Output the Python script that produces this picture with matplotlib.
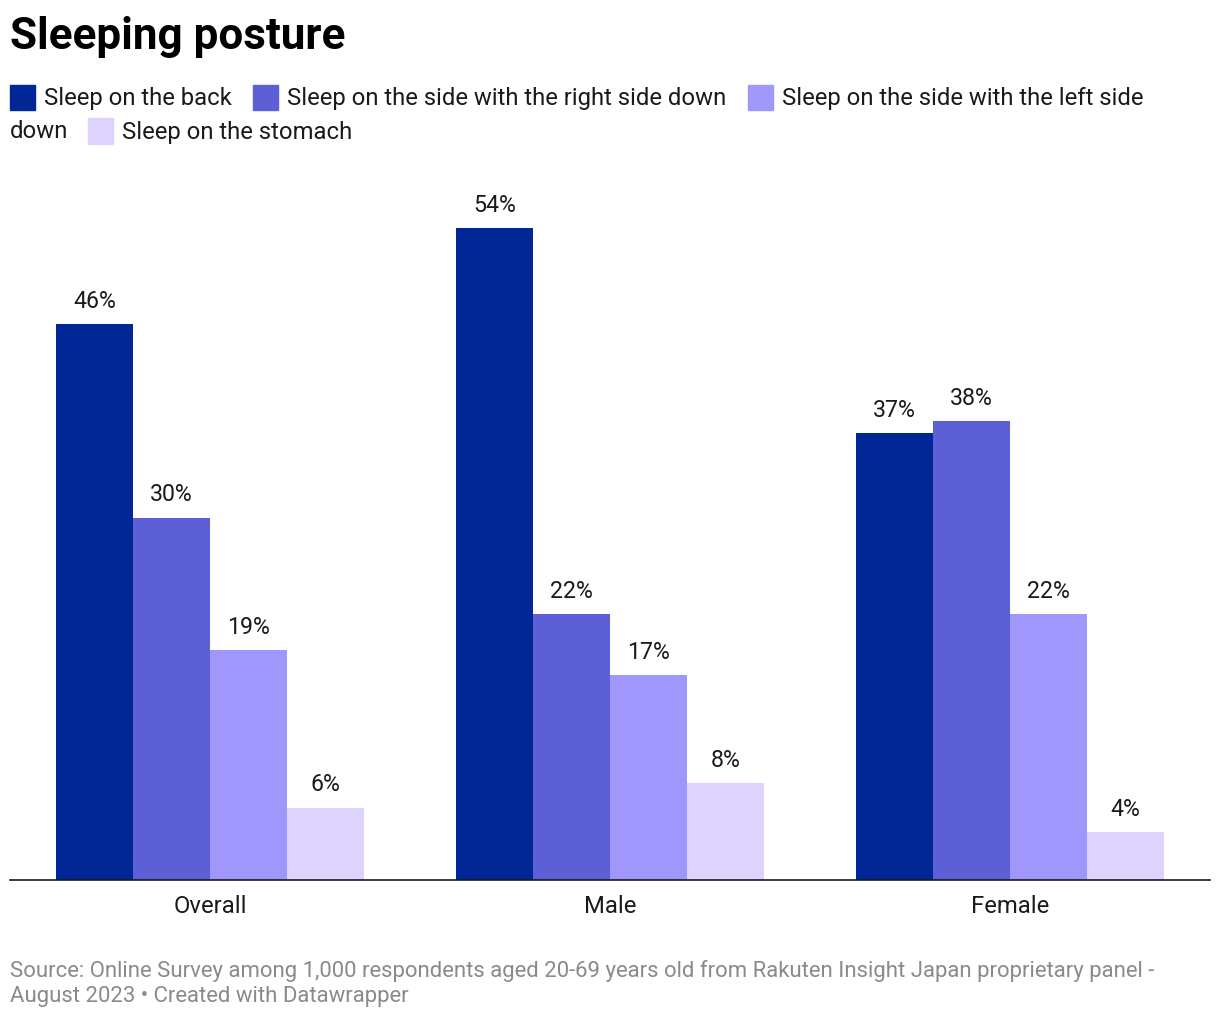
import numpy as np
from matplotlib import pyplot as plt
from matplotlib.patches import Rectangle

plt.rcParams['font.family'] = ['Roboto', 'DejaVu Sans']

groups = ["Overall", "Male", "Female"]
series = ["Sleep on the back", "Sleep on the side with the right side down",
          "Sleep on the side with the left side down", "Sleep on the stomach"]
back = [46, 54, 37]
right_side = [30, 22, 38]
left_side = [19, 17, 22]
stomach = [6, 8, 4]
colors = ["#002795", "#5c5fd6", "#a097fc", "#ddd3fc"]

fig = plt.figure(figsize=(12.2, 10.2), dpi=100)
W, H = 1220, 1020
ax = fig.add_axes([10 / W, 1 - 881 / H, 1200 / W, 711 / H])

x = np.arange(len(groups))
w = 0.1925
for i, vals in enumerate([back, right_side, left_side, stomach]):
    pos = x + (i - 1.5) * w
    ax.bar(pos, vals, width=w, color=colors[i])
    for p, v in zip(pos, vals):
        ax.text(p, v + 1.0, f"{v}%", ha="center", va="bottom", fontsize=16.7, color="#1a1a1a")

ax.set_xlim(-0.5, 2.5)
ax.set_ylim(0, 58.85)
ax.set_yticks([])
ax.set_xticks(x)
ax.set_xticklabels(groups, fontsize=17.2, color="#1a1a1a")
ax.tick_params(axis="x", length=0, pad=10)
for s in ["top", "right", "left"]:
    ax.spines[s].set_visible(False)
ax.spines["bottom"].set_color("#1a1a1a")
ax.spines["bottom"].set_linewidth(1.2)

fig.text(10 / W, 1 - 37 / H, "Sleeping posture", fontsize=31.7, fontweight="bold",
         va="center", ha="left", color="#000000")

# legend, wrapped over two lines
def legend_item(sx, y, label):
    fig.patches.append(Rectangle((sx / W, 1 - (y + 12.5) / H), 25 / W, 25 / H,
                                 transform=fig.transFigure, color=label[1]))
    fig.text((sx + 34) / W, 1 - y / H, label[0], fontsize=17.2, va="center", ha="left",
             color="#1a1a1a")

legend_item(10, 98, (series[0], colors[0]))
legend_item(253, 98, (series[1], colors[1]))
legend_item(748, 98, ("Sleep on the side with the left side", colors[2]))
fig.text(10 / W, 1 - 132 / H, "down", fontsize=17.2, va="center", ha="left", color="#1a1a1a")
legend_item(88, 132, (series[3], colors[3]))

fig.text(10 / W, 1 - 971 / H,
         "Source: Online Survey among 1,000 respondents aged 20-69 years old from Rakuten Insight Japan proprietary panel -",
         fontsize=15.9, va="center", ha="left", color="#8a8a8a")
fig.text(10 / W, 1 - 997 / H, "August 2023 \u2022 Created with Datawrapper",
         fontsize=15.9, va="center", ha="left", color="#8a8a8a")

fig.savefig("out.png", dpi=100)
